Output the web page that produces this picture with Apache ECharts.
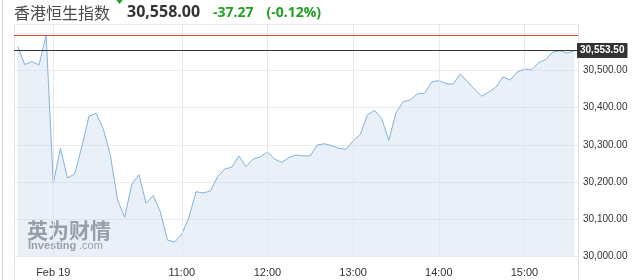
<!DOCTYPE html>
<html>
<head>
<meta charset="utf-8">
<script src="https://cdn.jsdelivr.net/npm/echarts@6/dist/echarts.min.js"></script>
<style>
html,body{margin:0;padding:0;background:#fff;}
#c{width:642px;height:280px;}
</style>
</head>
<body>
<div id="c"></div>
<script>
// time categories, 5-minute steps from 09:05 to 15:35
const categories = [];
for (let m = 9 * 60 + 5; m <= 15 * 60 + 35; m += 5) {
  categories.push(String(Math.floor(m / 60)).padStart(2, '0') + ':' + String(m % 60).padStart(2, '0'));
}
const prices = [
  30565, 30516, 30524, 30515, 30594, 30196, 30291, 30211, 30222, 30295,
  30377, 30385, 30343, 30272, 30153, 30105, 30194, 30220, 30143, 30164,
  30120, 30044, 30039, 30060, 30105, 30174, 30171, 30176, 30214, 30235,
  30240, 30270, 30242, 30262, 30268, 30281, 30262, 30253, 30266, 30273,
  30270, 30271, 30300, 30303, 30298, 30291, 30288, 30311, 30328, 30381,
  30393, 30371, 30312, 30386, 30416, 30421, 30437, 30439, 30469, 30473,
  30465, 30463, 30491, 30471, 30450, 30431, 30442, 30455, 30483, 30474,
  30496, 30504, 30502, 30521, 30530, 30550, 30553, 30547, 30553.5
];
const labelTimes = ['09:30', '11:00', '12:00', '13:00', '14:00', '15:00'];
const labelTexts = ['Feb 19', '11:00', '12:00', '13:00', '14:00', '15:00'];
const yTicks = { min: 30000, max: 30625, step: 100, lastLabel: 30500 };
const prevClose = 30595.27;
const lastPrice = 30553.5;
const titleName = '香港恒生指数';
const titlePrice = '30,558.00';
const titleChange = '-37.27';
const titlePct = '(-0.12%)';

const fmt = v => v.toLocaleString('en-US', { minimumFractionDigits: 2, maximumFractionDigits: 2 });

const chart = echarts.init(document.getElementById('c'), null, { renderer: 'canvas' });
const green = '#22a022';
const frame = '#e3e3e3';
const wm = 'rgba(105,105,105,0.85)';

chart.setOption({
  animation: false,
  grid: { left: 14, right: 64, top: 24, bottom: 23.5, containLabel: false },
  xAxis: {
    type: 'category',
    data: categories,
    boundaryGap: true,
    axisLine: { show: false },
    axisTick: { show: false },
    splitLine: { show: false },
    axisLabel: {
      interval: (idx, val) => labelTimes.includes(val),
      formatter: val => labelTexts[labelTimes.indexOf(val)],
      color: '#333',
      fontSize: 11,
      fontFamily: 'Liberation Sans',
      margin: 11
    }
  },
  yAxis: {
    type: 'value',
    position: 'right',
    min: yTicks.min,
    max: yTicks.max,
    interval: yTicks.step,
    axisLine: { show: true, lineStyle: { color: '#d9e0e8' } },
    axisTick: { show: false },
    splitLine: { lineStyle: { color: '#e9edf2', width: 1 } },
    axisLabel: {
      formatter: v => (v <= yTicks.lastLabel ? fmt(v) : ''),
      color: '#333',
      fontSize: 10,
      fontFamily: 'Liberation Sans',
      margin: 5
    }
  },
  series: [
    {
      type: 'line',
      data: prices,
      symbol: 'none',
      smooth: false,
      lineStyle: { color: '#80b1de', width: 1 },
      areaStyle: { color: 'rgba(194,214,232,0.52)' },
      markLine: {
        silent: true,
        symbol: ['none', 'none'],
        animation: false,
        label: { show: false },
        lineStyle: { color: 'rgba(225,231,238,0.9)', width: 1, type: 'solid' },
        data: labelTimes.map(t => ({ xAxis: t }))
      }
    },
    {
      type: 'line',
      data: [],
      symbol: 'none',
      markLine: {
        silent: true,
        symbol: ['none', 'none'],
        animation: false,
        label: { show: false },
        lineStyle: { color: '#d2453a', width: 1, type: 'solid', opacity: 1 },
        data: [{ yAxis: prevClose }]
      }
    },
    {
      type: 'line',
      data: [],
      symbol: 'none',
      markLine: {
        silent: true,
        symbol: ['none', 'none'],
        animation: false,
        lineStyle: { color: '#333', width: 1, type: 'solid', opacity: 1 },
        label: {
          show: true,
          position: 'end',
          distance: -1,
          formatter: () => fmt(lastPrice),
          backgroundColor: '#333',
          color: '#fff',
          fontSize: 10,
          fontWeight: 'bold',
          fontFamily: 'Liberation Sans',
          padding: [3, 3, 2, 3],
          borderRadius: 1
        },
        data: [{ yAxis: lastPrice }]
      }
    }
  ],
  graphic: [
    { type: 'line', shape: { x1: 2.5, y1: 0, x2: 2.5, y2: 280 }, style: { stroke: '#cfcfcf', lineWidth: 1 }, silent: true },
    { type: 'line', shape: { x1: 14.5, y1: 24, x2: 14.5, y2: 280 }, style: { stroke: frame, lineWidth: 1 }, silent: true },
    { type: 'line', shape: { x1: 14, y1: 24.5, x2: 578, y2: 24.5 }, style: { stroke: frame, lineWidth: 1 }, silent: true },
    { type: 'line', shape: { x1: 578.5, y1: 256, x2: 578.5, y2: 280 }, style: { stroke: '#d9e0e8', lineWidth: 1 }, silent: true },
    { type: 'text', x: 14, y: 12.5, style: { text: titleName, font: '16px "Noto Sans CJK SC"', fill: '#4a4a4a', verticalAlign: 'middle', align: 'left' }, silent: true },
    { type: 'polygon', shape: { points: [[115.5, -1], [123.5, -1], [119.5, 4]] }, style: { fill: green }, silent: true },
    { type: 'text', x: 127, y: 12.5, style: { text: titlePrice, font: 'bold 16px "Open Sans"', fill: '#333', verticalAlign: 'middle', align: 'left' }, silent: true },
    { type: 'text', x: 213, y: 13, style: { text: titleChange, font: 'bold 14px "Open Sans"', fill: green, verticalAlign: 'middle', align: 'left' }, silent: true },
    { type: 'text', x: 266.5, y: 13, style: { text: titlePct, font: 'bold 14px "Open Sans"', fill: green, verticalAlign: 'middle', align: 'left' }, silent: true },
    { type: 'text', x: 27, y: 230, style: { text: '英为财情', font: 'bold 21px "Noto Sans CJK SC"', fill: wm, verticalAlign: 'middle', align: 'left' }, silent: true },
    { type: 'text', x: 28, y: 245.5, style: { text: 'Investing', font: 'bold 11px "Liberation Sans"', fill: wm, verticalAlign: 'middle', align: 'left' }, silent: true },
    { type: 'text', x: 79, y: 245.5, style: { text: '.com', font: '11px "Liberation Sans"', fill: wm, verticalAlign: 'middle', align: 'left' }, silent: true }
  ]
});
</script>
</body>
</html>
